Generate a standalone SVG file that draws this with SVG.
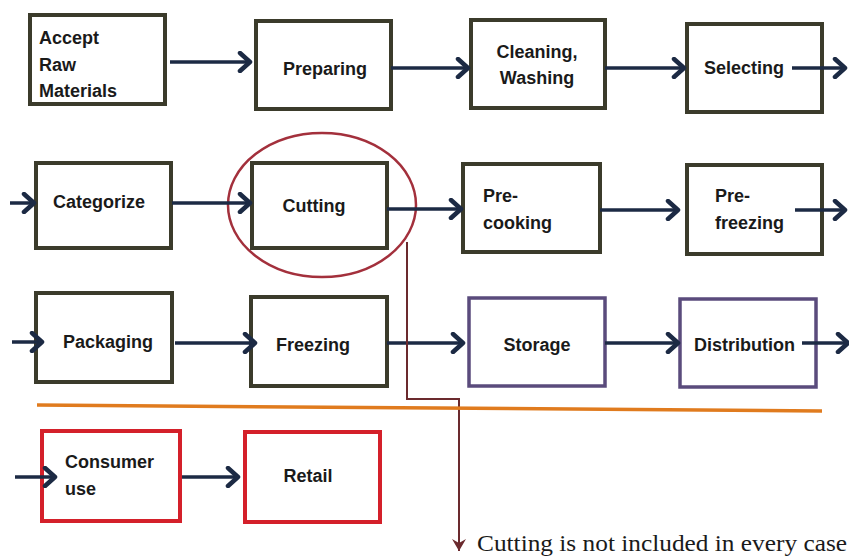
<svg xmlns="http://www.w3.org/2000/svg" width="849" height="556" viewBox="0 0 849 556">
<defs>
<marker id="chev" markerUnits="userSpaceOnUse" markerWidth="18" markerHeight="22" refX="13" refY="11" orient="auto">
<path d="M3,2 L13,11 L3,20" fill="none" stroke="#1c2a44" stroke-width="4.5" stroke-linecap="round" stroke-linejoin="round"/>
</marker>
<marker id="brown" markerUnits="userSpaceOnUse" markerWidth="16" markerHeight="16" refX="12" refY="8" orient="auto">
<path d="M0,1 L12,8 L0,15 L4,8 Z" fill="#6b2a2e"/>
</marker>
<style>
.box{fill:#fff;stroke:#3b3b2b;stroke-width:4}
.pbox{fill:#fff;stroke:#5a4b7c;stroke-width:3.5}
.rbox{fill:#fff;stroke:#d4202a;stroke-width:4}
.t{font-family:"Liberation Sans",Arial,sans-serif;font-weight:bold;font-size:18px;fill:#1a1a1a}
.c{text-anchor:middle}
.arr{fill:none;stroke:#1c2a44;stroke-width:3.5;marker-end:url(#chev)}
</style>
</defs>
<rect width="849" height="556" fill="#fff"/>
<g id="n-accept"><rect class="box" x="30" y="15" width="135" height="89"/><text class="t" x="39" y="44">Accept</text><text class="t" x="39" y="71">Raw</text><text class="t" x="39" y="97">Materials</text></g>
<g id="n-preparing"><rect class="box" x="256" y="21" width="135" height="88"/><text class="t c" x="325" y="75">Preparing</text></g>
<g id="n-cleaning"><rect class="box" x="471" y="20" width="134" height="88"/><text class="t c" x="537" y="58">Cleaning,</text><text class="t c" x="537" y="84">Washing</text></g>
<g id="n-selecting"><rect class="box" x="687" y="24" width="135" height="88"/><text class="t" x="704" y="74">Selecting</text></g>
<g id="n-categorize"><rect class="box" x="36" y="163" width="135" height="85"/><text class="t c" x="99" y="208">Categorize</text></g>
<g id="n-cutting"><rect class="box" x="252" y="163" width="135" height="85"/><text class="t c" x="314" y="212">Cutting</text><ellipse cx="322" cy="205" rx="94" ry="72" fill="none" stroke="#a3303c" stroke-width="2.5"/></g>
<g id="n-precooking"><rect class="box" x="463" y="164" width="137" height="88"/><text class="t" x="483" y="202">Pre-</text><text class="t" x="483" y="229">cooking</text></g>
<g id="n-prefreezing"><rect class="box" x="687" y="165" width="135" height="89"/><text class="t" x="715" y="202">Pre-</text><text class="t" x="715" y="229">freezing</text></g>
<g id="n-packaging"><rect class="box" x="36" y="293" width="136" height="89"/><text class="t c" x="108" y="348">Packaging</text></g>
<g id="n-freezing"><rect class="box" x="251" y="297" width="136" height="89"/><text class="t c" x="313" y="351">Freezing</text></g>
<g id="n-storage"><rect class="pbox" x="469" y="298" width="136" height="88"/><text class="t c" x="537" y="351">Storage</text></g>
<g id="n-distribution"><rect class="pbox" x="680" y="299" width="136" height="88"/><text class="t" x="694" y="351">Distribution</text></g>
<g id="n-consumer"><rect class="rbox" x="42" y="431" width="138" height="90"/><text class="t" x="65" y="468">Consumer</text><text class="t" x="65" y="495">use</text></g>
<g id="n-retail"><rect class="rbox" x="245" y="432" width="135" height="90"/><text class="t c" x="308" y="482">Retail</text></g>
<g id="connectors">
<path class="arr" d="M170,62 L250,62"/>
<path class="arr" d="M391,68 L468,68"/>
<path class="arr" d="M605,68 L684,68"/>
<path class="arr" d="M792,68 L845,68"/>
<path class="arr" d="M10,203 L34,203"/>
<path class="arr" d="M172,203 L250,203"/>
<path class="arr" d="M387,209 L461,209"/>
<path class="arr" d="M600,210 L678,210"/>
<path class="arr" d="M795,210 L845,210"/>
<path class="arr" d="M12,342 L42,342"/>
<path class="arr" d="M175,343 L255,343"/>
<path class="arr" d="M387,343 L463,343"/>
<path class="arr" d="M605,343 L678,343"/>
<path class="arr" d="M802,343 L848,343"/>
<path class="arr" d="M15,477 L55,477"/>
<path class="arr" d="M182,477 L238,477"/>
<path d="M407,242 L407,399 L459,399 L459,551" fill="none" stroke="#6b2a2e" stroke-width="2" marker-end="url(#brown)"/>
</g>
<line x1="37" y1="405" x2="822" y2="411" stroke="#e07b1e" stroke-width="3.5"/>
<text x="477" y="551" font-family="'Liberation Serif','Times New Roman',serif" font-size="22.5" textLength="370" lengthAdjust="spacingAndGlyphs" fill="#1a1a1a">Cutting is not included in every case</text>
</svg>
